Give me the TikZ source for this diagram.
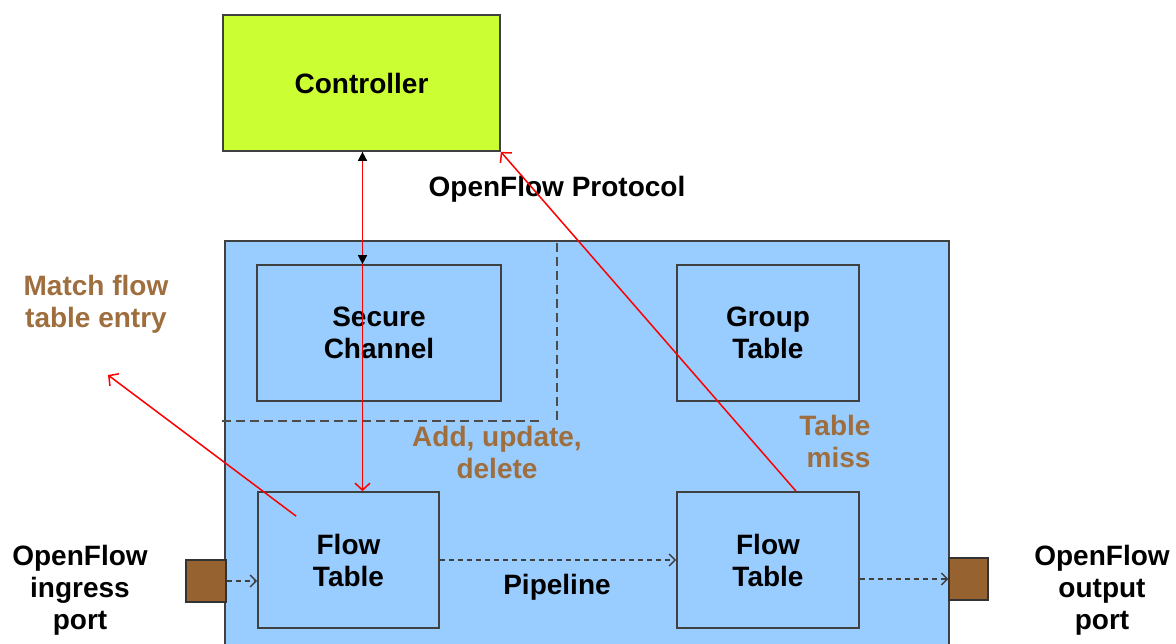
\documentclass[tikz,border=0pt]{standalone}
\usepackage{fontspec}
\setmainfont{Liberation Sans}
\usetikzlibrary{arrows.meta, positioning}
\definecolor{ctrl green}{RGB}{204,255,51}
\definecolor{switch blue}{RGB}{153,204,255}
\definecolor{port brown}{RGB}{150,99,48}
\definecolor{label brown}{RGB}{158,110,62}
\colorlet{box edge}{black!75}
\tikzset{
  block/.style={draw=box edge, line width=1.7pt, minimum width=182pt, minimum height=136pt, inner sep=0pt, align=center},
  port/.style={draw=black!80, fill=port brown, line width=1.3pt, minimum width=40pt, minimum height=42pt, inner sep=0pt},
  msg/.style={draw=red, line width=1.5pt, -{Straight Barb[length=7pt,width=15pt]}},
  ctl/.style={draw=red, line width=1.5pt, {Triangle[color=black,length=9pt,width=9pt]}-{Triangle[color=black,length=9pt,width=9pt]}},
  flow/.style={draw=black!75, line width=1.4pt, dash pattern=on 5pt off 4pt, -{Straight Barb[length=6pt,width=12pt]}},
  zone/.style={draw=black!70, line width=1.6pt, dash pattern=on 9pt off 5pt},
  note/.style={text=label brown, align=center}
}

\begin{document}
\begin{tikzpicture}[
        x=1pt, y=-1pt,
        font=\fontsize{28}{32}\selectfont\bfseries,
    ]
    \useasboundingbox (0,0) rectangle (1176,644);
    \node[block, fill=ctrl green, minimum width=277pt] (ctrl) at (361.5,83) {Controller};
    \node[draw=box edge, fill=switch blue, line width=1.7pt, minimum width=724pt, minimum height=420pt, inner sep=0pt] (switch) at (587,451) {};
    \draw[zone] (222,421) -- (543,421) (557,243) -- (557,420);
    \node[block, minimum width=244pt] (secure) at (379,333) {Secure\\Channel};
    \node[block] (group) at (768,333) {Group\\Table};
    \node[block, minimum width=181pt] (flowA) at (348.5,560) {Flow\\Table};
    \node[block] (flowB) at (768,560) {Flow\\Table};
    \node[port] (portIn) at (206,581) {};
    \node[port, minimum width=39pt] (portOut) at (968.5,579) {};
    \node (proto) at (557,189) {OpenFlow Protocol};
    \node[note] (match) at (96,304) {Match flow\\table entry};
    \node[note] (update) at (497,452) {Add, update,\\delete};
    \node[note, align=right, anchor=east] (miss) at (874,441) {Table\\miss};
    \node (pipe) at (557,587) {Pipeline};
    \node[align=center] (ingress) at (80,590) {OpenFlow\\ingress\\port};
    \node[align=center] (egress) at (1102,590) {OpenFlow\\output\\port};
    \coordinate (matchTip) at (108,375);
    \draw[msg] ([xshift=1pt]ctrl.south) -- ([xshift=1pt]ctrl.south |- flowA.north);
    \draw[ctl] ([xshift=1pt]ctrl.south) -- ([xshift=1pt]ctrl.south |- secure.north);
    \draw[msg] ([xshift=28pt]flowB.north) -- (ctrl.south east);
    \draw[msg] ([xshift=39pt,yshift=-25pt]flowA.north west) -- (matchTip);
    \draw[flow] (portIn.east) -- (portIn.east -| flowA.west);
    \draw[flow] (flowA.east) -- (flowB.west);
    \draw[flow] (flowB.east |- portOut.west) -- (portOut.west);
\end{tikzpicture}
\end{document}
